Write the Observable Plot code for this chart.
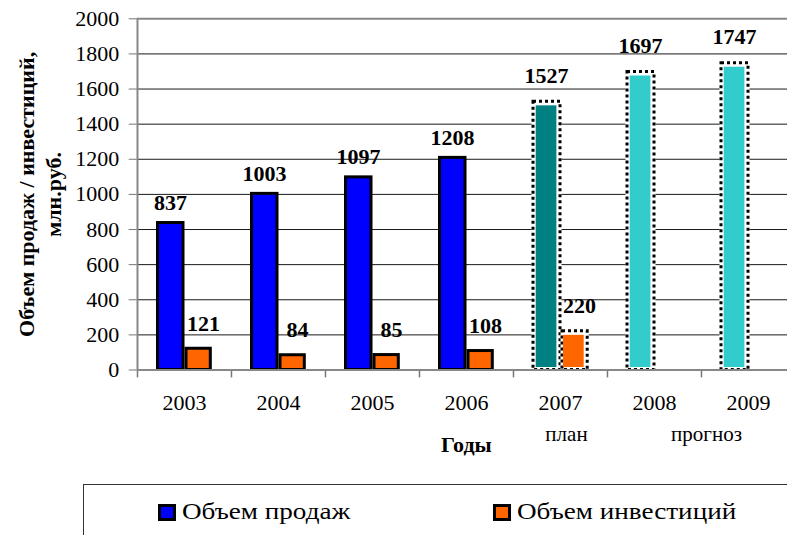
<!DOCTYPE html>
<html><head><meta charset="utf-8">
<script src="https://cdn.jsdelivr.net/npm/d3@7"></script>
<script src="https://cdn.jsdelivr.net/npm/@observablehq/plot@0.6"></script>
</head><body style="margin:0;background:#fff;font-family:'Liberation Serif',serif">
<div id="wrap" style="position:relative;width:787px;height:535px;overflow:hidden;background:#fff;font-family:'Liberation Serif',serif"><div id="chart"></div><div id="legend" style="position:absolute;left:83px;top:484px;width:760px;height:80px;border:1.5px solid #333;box-sizing:border-box;"></div></div>
<script>
// ---- data ----
const years = ["2003", "2004", "2005", "2006", "2007", "2008", "2009"];
const sales = [837, 1003, 1097, 1208, 1527, 1697, 1747];
const investments = [121, 84, 85, 108, 220, null, null];
const status = ["факт", "факт", "факт", "факт", "план", "прогноз", "прогноз"];
const yTicks = [0, 200, 400, 600, 800, 1000, 1200, 1400, 1600, 1800, 2000];
const seriesNames = ["Объем продаж", "Объем инвестиций"];
const yTitle = "Объем продаж / инвестиций,\nмлн.руб.";
const xTitle = "Годы";
const notePlan = "план";
const noteForecast = "прогноз";

// ---- styling ----
const colSales = {"факт": "#0000FF", "план": "#008080", "прогноз": "#33CCCC"};
const colInv = "#FF6600";
const ff = "Liberation Serif";

const rows = years.map((y, i) => ({year: y, sales: sales[i], inv: investments[i], status: status[i]}));
const solid = rows.filter(d => d.status === "факт");
const dotted = rows.filter(d => d.status !== "факт");
const invSolid = solid.filter(d => d.inv != null);
const invDotted = dotted.filter(d => d.inv != null);
const invAll = rows.filter(d => d.inv != null);

const W = 787, H = 480;
const mLeft = 136.7, mTop = 18.3, yBase = 369.5;
const half = (795 - mLeft) / years.length / 2;
const T = {fontFamily: ff, fill: "black"};

const chart = Plot.plot({
  width: W, height: H,
  marginLeft: mLeft, marginRight: 0, marginTop: mTop, marginBottom: H - yBase,
  style: {fontFamily: ff, fontSize: "22px", color: "black", background: "white"},
  x: {domain: years, range: [mLeft, 795], padding: 0, axis: null},
  y: {domain: [0, 2000], range: [yBase, mTop], axis: null},
  color: {domain: Object.keys(colSales), range: Object.values(colSales)},
  marks: [
    Plot.ruleY(yTicks.filter(t => t > 0 && t < 2000), {stroke: "#1a1a1a", strokeWidth: 1}),
    Plot.ruleY([2000], {stroke: "#888", strokeWidth: 2}),
    Plot.ruleX(years, {x: d => d, dx: -half, y1: 0, y2: -45, stroke: "#777", strokeWidth: 1.5}),
    Plot.axisY(yTicks, {tickSize: 8, tickPadding: 10, fontSize: 22, stroke: "#777", ...T, label: null, tickFormat: d => String(d)}),
    // solid bars
    Plot.barY(solid, {x: "year", y: "sales", fill: "status", stroke: "black", strokeWidth: 3, insetLeft: 20.5, insetRight: 48}),
    Plot.barY(invSolid, {x: "year", y: "inv", fill: colInv, stroke: "black", strokeWidth: 3, insetLeft: 49, insetRight: 20.7}),
    // dotted (plan / forecast) bars
    Plot.barY(dotted, {x: "year", y: "sales", fill: "white", stroke: "white", strokeWidth: 3, insetLeft: 20, insetRight: 47}),
    Plot.barY(dotted, {x: "year", y: "sales", fill: "none", stroke: "black", strokeWidth: 3, strokeDasharray: "3,3", insetLeft: 20, insetRight: 47}),
    Plot.barY(dotted, {x: "year", y: "sales", fill: "status", insetLeft: 22.7, insetRight: 50.6, insetTop: 4, insetBottom: 2.5}),
    Plot.barY(invDotted, {x: "year", y: "inv", fill: "white", stroke: "white", strokeWidth: 3, insetLeft: 49, insetRight: 19.8}),
    Plot.barY(invDotted, {x: "year", y: "inv", fill: "none", stroke: "black", strokeWidth: 3, strokeDasharray: "3,3", insetLeft: 49, insetRight: 19.8}),
    Plot.barY(invDotted, {x: "year", y: "inv", fill: colInv, insetLeft: 50, insetRight: 23.3, insetTop: 4, insetBottom: 2.5}),
    // axis lines
    Plot.ruleY([0], {stroke: "#888", strokeWidth: 2}),
    Plot.ruleX([years[0]], {x: d => d, dx: -half, stroke: "#888", strokeWidth: 2}),
    // value labels
    Plot.text(solid, {x: "year", y: "sales", text: d => String(d.sales), dx: -14, dy: -20, fontWeight: "bold", fontSize: 22, ...T}),
    Plot.text(dotted, {x: "year", y: "sales", text: d => String(d.sales), dx: -14, dy: -26, fontWeight: "bold", fontSize: 22, ...T}),
    Plot.text(invAll, {x: "year", y: "inv", text: d => String(d.inv), dx: 19, dy: -25, fontWeight: "bold", fontSize: 22, ...T}),
    // x labels
    Plot.text(years, {x: d => d, frameAnchor: "bottom", dy: 40, fontSize: 22, ...T}),
    Plot.text([xTitle], {frameAnchor: "bottom", textAnchor: "middle", dx: 4, dy: 82, fontWeight: "bold", fontSize: 22, ...T}),
    Plot.text([notePlan], {x: () => years[4], frameAnchor: "bottom", dx: 6, dy: 71, fontSize: 21, ...T}),
    Plot.text([noteForecast], {x: () => years[5], frameAnchor: "bottom", dx: 52, dy: 71, fontSize: 21, ...T}),
    // y title
    Plot.text([yTitle], {frameAnchor: "left", textAnchor: "middle", lineAnchor: "middle", dx: -98.2, dy: 0, rotate: -90, fontWeight: "bold", fontSize: 22, lineHeight: 1.22, ...T})
  ]
});
document.getElementById("chart").appendChild(chart);

// legend (HTML below the SVG)
const legend = document.getElementById("legend");
const legendCols = [colSales["факт"], colInv];
const legendX = [74, 409];
seriesNames.forEach((name, i) => {
  const it = document.createElement("div");
  it.style.cssText = "position:absolute;top:14px;display:flex;align-items:center;font-size:23px;line-height:26px;white-space:nowrap;color:#000;left:" + legendX[i] + "px";
  it.style.fontFamily = "Liberation Serif";
  const sw = document.createElement("div");
  sw.style.cssText = "width:18px;height:17px;border:3px solid #000;box-sizing:border-box;margin-right:6px;flex:none;background:" + legendCols[i];
  const t = document.createElement("span");
  t.style.cssText = "display:inline-block;transform:scaleX(1.18);transform-origin:left center;";
  t.style.fontFamily = "Liberation Serif";
  t.textContent = name;
  it.appendChild(sw); it.appendChild(t);
  legend.appendChild(it);
});
</script>
</body></html>
